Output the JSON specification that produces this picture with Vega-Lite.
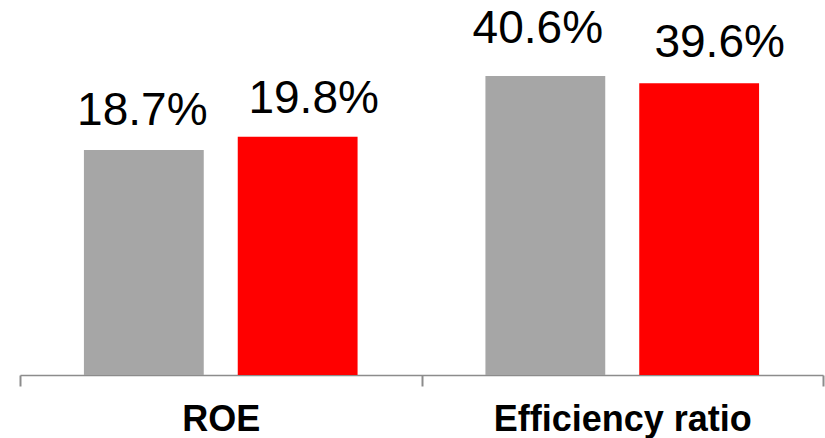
{
  "$schema": "https://vega.github.io/schema/vega-lite/v6.json",
  "width": 803,
  "height": 375,
  "autosize": {"type": "none"},
  "padding": {"left": 20, "top": 0, "right": 2, "bottom": 63},
  "background": "white",
  "config": {"view": {"stroke": null}},
  "data": {
    "values": [
      {"metric": "ROE", "series": "prior", "value": 0.187},
      {"metric": "ROE", "series": "current", "value": 0.198},
      {"metric": "Efficiency ratio", "series": "prior", "value": 0.406},
      {"metric": "Efficiency ratio", "series": "current", "value": 0.396}
    ]
  },
  "encoding": {
    "x": {
      "field": "metric",
      "type": "nominal",
      "scale": {"domain": ["ROE", "Efficiency ratio"], "paddingInner": 0, "paddingOuter": 0},
      "axis": {
        "title": null,
        "labelAngle": 0,
        "labelFont": "Liberation Sans",
        "labelFontSize": 36,
        "labelFontWeight": "bold",
        "labelColor": "#000000",
        "labelBaseline": "alphabetic",
        "labelPadding": 44,
        "labelLimit": 0,
        "labelOverlap": false,
        "tickBand": "extent",
        "tickSize": 11,
        "tickWidth": 2,
        "tickColor": "#8c8c8c",
        "domainColor": "#8c8c8c",
        "domainWidth": 1.5
      }
    },
    "xOffset": {
      "field": "series",
      "type": "nominal",
      "scale": {"domain": ["prior", "current"], "paddingInner": 0.221, "paddingOuter": 0.4156}
    }
  },
  "layer": [
    {
      "transform": [{"filter": "datum.metric === 'ROE'"}],
      "encoding": {
        "y": {"field": "value", "type": "quantitative", "scale": {"domain": [0, 0.3115], "nice": false, "zero": true}, "axis": null}
      },
      "layer": [
        {
          "mark": {"type": "bar"},
          "encoding": {
            "color": {"field": "series", "type": "nominal", "scale": {"domain": ["prior", "current"], "range": ["#A6A6A6", "#FF0000"]}, "legend": null}
          }
        },
        {
          "transform": [{"filter": "datum.series === 'prior'"}],
          "mark": {"type": "text", "font": "Liberation Sans", "fontSize": 46, "baseline": "alphabetic", "align": "center", "color": "#000000", "dx": -1.5, "dy": -25},
          "encoding": {"text": {"field": "value", "type": "quantitative", "format": ".1%"}}
        },
        {
          "transform": [{"filter": "datum.series === 'current'"}],
          "mark": {"type": "text", "font": "Liberation Sans", "fontSize": 46, "baseline": "alphabetic", "align": "center", "color": "#000000", "dx": 16, "dy": -23.3},
          "encoding": {"text": {"field": "value", "type": "quantitative", "format": ".1%"}}
        }
      ]
    },
    {
      "transform": [{"filter": "datum.metric === 'Efficiency ratio'"}],
      "encoding": {
        "y": {"field": "value", "type": "quantitative", "scale": {"domain": [0, 0.509], "nice": false, "zero": true}, "axis": null}
      },
      "layer": [
        {
          "mark": {"type": "bar"},
          "encoding": {
            "color": {"field": "series", "type": "nominal", "scale": {"domain": ["prior", "current"], "range": ["#A6A6A6", "#FF0000"]}, "legend": null}
          }
        },
        {
          "transform": [{"filter": "datum.series === 'prior'"}],
          "mark": {"type": "text", "font": "Liberation Sans", "fontSize": 46, "baseline": "alphabetic", "align": "center", "color": "#000000", "dx": -7.5, "dy": -32.6},
          "encoding": {"text": {"field": "value", "type": "quantitative", "format": ".1%"}}
        },
        {
          "transform": [{"filter": "datum.series === 'current'"}],
          "mark": {"type": "text", "font": "Liberation Sans", "fontSize": 46, "baseline": "alphabetic", "align": "center", "color": "#000000", "dx": 20.5, "dy": -26},
          "encoding": {"text": {"field": "value", "type": "quantitative", "format": ".1%"}}
        }
      ]
    }
  ],
  "resolve": {"scale": {"y": "independent"}}
}
